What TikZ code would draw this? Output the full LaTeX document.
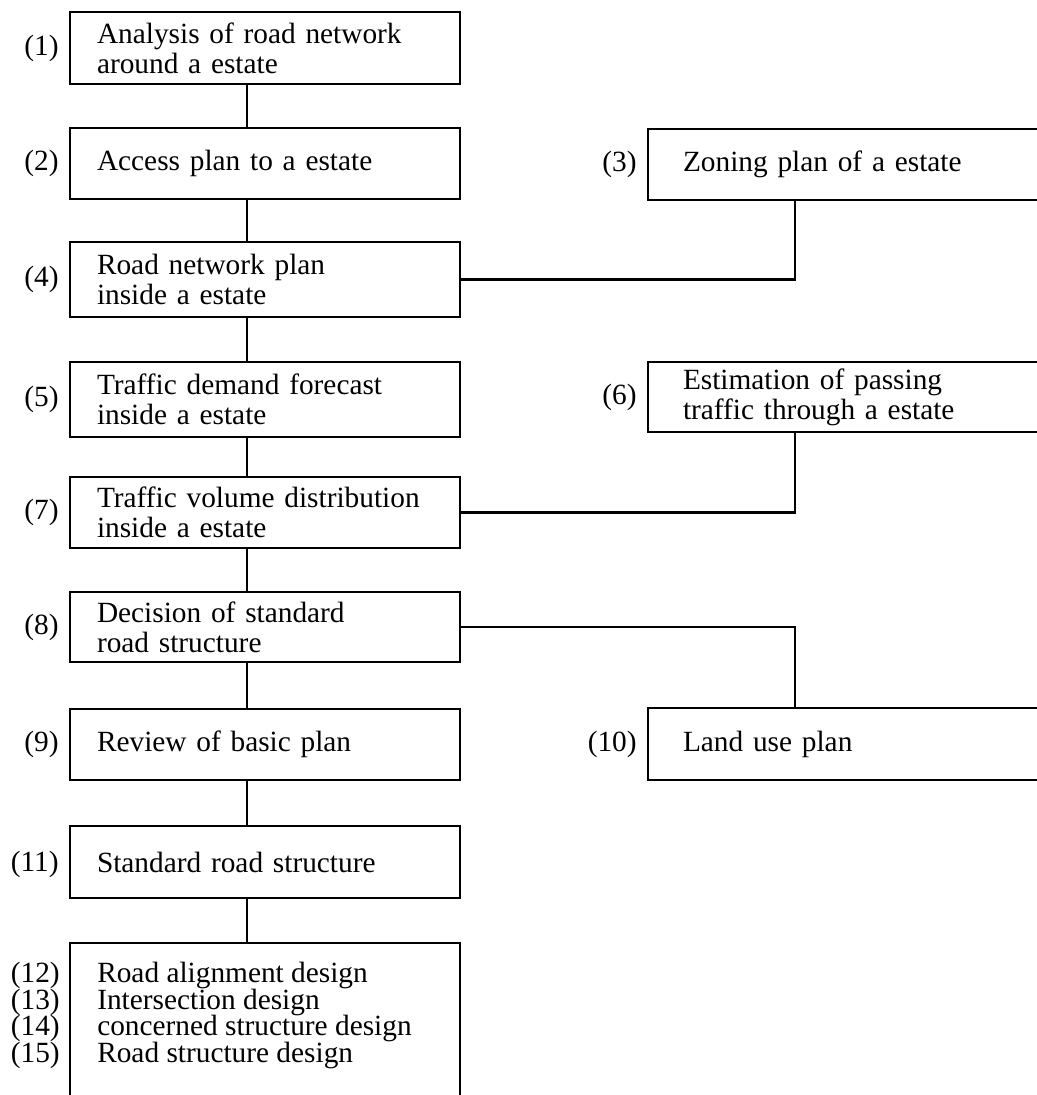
\documentclass[tikz,border=0pt]{standalone}
\usepackage{fontspec}
\setmainfont{Liberation Serif}
\begin{document}
\begin{tikzpicture}[x=0.75pt,y=-0.75pt,
  every node/.style={font=\fontsize{22pt}{22.5pt}\selectfont},
  conn/.style={line width=1.6pt},
  lbox/.style={draw, line width=1.6pt, minimum width=292.5pt, text width=252pt,
    inner xsep=20.25pt, inner ysep=0pt, align=left},
  rbox/.style={draw, line width=1.6pt, minimum width=301.5pt, text width=249pt,
    inner xsep=26.25pt, inner ysep=0pt, align=left},
  num/.style={inner sep=0pt, anchor=east},
  tight/.style={inner sep=0pt,
    font={\fontsize{22pt}{20pt}\selectfont\lineskiplimit=-30pt\relax}}
]
\useasboundingbox (0,0) rectangle (1037,1095);
\clip (0,0) rectangle (1037,1095);

% trunk and side columns of the connectors
\coordinate (spine) at (247,0);
\coordinate (rspine) at (795,0);

% main column
\node[lbox, minimum height=54pt]    (b1)  at (265,48)    {Analysis of road network\\around a estate};
\node[lbox, minimum height=53.25pt] (b2)  at (265,163.5) {Access plan to a estate};
\node[lbox, minimum height=56.25pt] (b4)  at (265,279.5) {Road network plan\\inside a estate};
\node[lbox, minimum height=56.25pt] (b5)  at (265,399.5) {Traffic demand forecast\\inside a estate};
\node[lbox, minimum height=53.25pt] (b7)  at (265,512.5) {Traffic volume distribution\\inside a estate};
\node[lbox, minimum height=52.5pt]  (b8)  at (265,627)   {Decision of standard\\road structure};
\node[lbox, minimum height=53.25pt] (b9)  at (265,744.5) {Review of basic plan};
\node[lbox, minimum height=54pt]    (b11) at (265,862)   {Standard road structure};
\node[draw, line width=1.6pt, inner sep=0pt, minimum width=292.5pt,
      minimum height=125.25pt] (b12) at (265,1026.5) {};
\node[tight, anchor=north west, align=left] (b12t) at (97,962)
  {Road alignment design\\Intersection design\\concerned structure design\\Road structure design};
\node[tight, anchor=north east, align=right] (n12) at (60,962) {(12)\\(13)\\(14)\\(15)};

% side column
\node[rbox, minimum height=53.25pt] (b3)  at (849,164.5) {Zoning plan of a estate};
\node[rbox, minimum height=52.5pt]  (b6)  at (849,397)   {Estimation of passing\\traffic through a estate};
\node[rbox, minimum height=54pt]    (b10) at (849,744)   {Land use plan};

% step numbers
\node[num] (n1)  at ([xshift=-7.5pt]b1.west)  {(1)};
\node[num] (n2)  at ([xshift=-7.5pt]b2.west)  {(2)};
\node[num] (n4)  at ([xshift=-7.5pt]b4.west)  {(4)};
\node[num] (n5)  at ([xshift=-7.5pt]b5.west)  {(5)};
\node[num] (n7)  at ([xshift=-7.5pt]b7.west)  {(7)};
\node[num] (n8)  at ([xshift=-7.5pt]b8.west)  {(8)};
\node[num] (n9)  at ([xshift=-7.5pt]b9.west)  {(9)};
\node[num] (n11) at ([xshift=-7.5pt,yshift=-1.5pt]b11.west) {(11)};
\node[num] (n3)  at ([xshift=-7.5pt]b3.west)  {(3)};
\node[num] (n6)  at ([xshift=-7.5pt]b6.west)  {(6)};
\node[num] (n10) at ([xshift=-7.5pt]b10.west) {(10)};

% trunk connectors
\draw[conn] (b1.south -| spine)  -- (b2.north -| spine);
\draw[conn] (b2.south -| spine)  -- (b4.north -| spine);
\draw[conn] (b4.south -| spine)  -- (b5.north -| spine);
\draw[conn] (b5.south -| spine)  -- (b7.north -| spine);
\draw[conn] (b7.south -| spine)  -- (b8.north -| spine);
\draw[conn] (b8.south -| spine)  -- (b9.north -| spine);
\draw[conn] (b9.south -| spine)  -- (b11.north -| spine);
\draw[conn] (b11.south -| spine) -- (b12.north -| spine);

% side connectors
\draw[conn] (b4.east) -| (rspine |- b3.south);
\draw[conn] (b7.east) -| (rspine |- b6.south);
\draw[conn] (b8.east) -| (rspine |- b10.north);
\end{tikzpicture}
\end{document}
